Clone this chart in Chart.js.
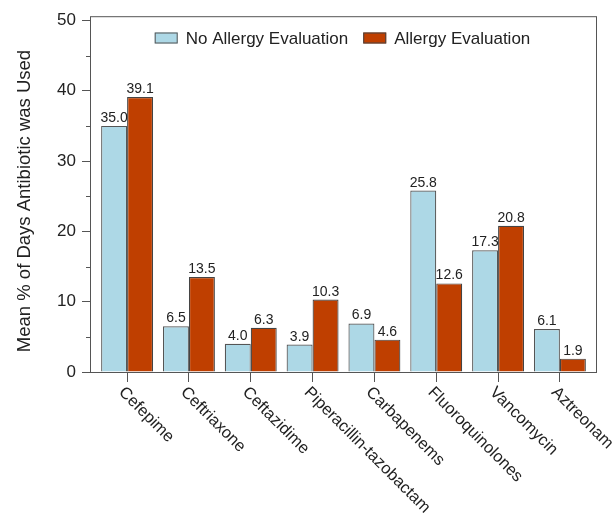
<!DOCTYPE html>
<html>
<head>
<meta charset="utf-8">
<script src="https://cdn.jsdelivr.net/npm/chart.js@4"></script>
<style>
  html, body { margin: 0; padding: 0; background: #fff; }
</style>
</head>
<body>
<canvas id="chart" width="614" height="525"></canvas>
<script>
'use strict';

const categories = ['Cefepime', 'Ceftriaxone', 'Ceftazidime', 'Piperacillin-tazobactam', 'Carbapenems', 'Fluoroquinolones', 'Vancomycin', 'Aztreonam'];
const noEvaluation = [35.0, 6.5, 4.0, 3.9, 6.9, 25.8, 17.3, 6.1];
const withEvaluation = [39.1, 13.5, 6.3, 10.3, 4.6, 12.6, 20.8, 1.9];
const seriesNames = ['No Allergy Evaluation', 'Allergy Evaluation'];
const yTicks = [0, 10, 20, 30, 40, 50];
const yMinorTicks = [5, 15, 25, 35, 45];
const yTitle = 'Mean % of Days Antibiotic was Used';

const FONT = 'Arial, "Liberation Sans", sans-serif';
const LINE = '#555';

// frame, minor ticks, value labels, rotated categories, legend, y title
const decor = {
    id: 'decor',
    afterDatasetsDraw(chart) {
        const { ctx, chartArea: a, scales: { x, y } } = chart;
        ctx.save();

        ctx.strokeStyle = LINE;
        ctx.lineWidth = 1;
        ctx.strokeRect(a.left + 0.5, a.top + 0.5, a.right - a.left - 1, a.bottom - a.top);

        yMinorTicks.forEach(v => {
            const py = Math.round(y.getPixelForValue(v)) + 0.5;
            ctx.beginPath();
            ctx.moveTo(a.left - 4, py);
            ctx.lineTo(a.left, py);
            ctx.stroke();
        });

        ctx.fillStyle = '#222';
        ctx.font = '14px ' + FONT;
        ctx.textAlign = 'center';
        ctx.textBaseline = 'alphabetic';
        chart.data.datasets.forEach((ds, di) => {
            chart.getDatasetMeta(di).data.forEach((el, i) => {
                ctx.fillText(ds.data[i].y.toFixed(1), el.x, el.y - 4);
            });
        });

        ctx.font = '16.5px ' + FONT;
        ctx.textAlign = 'left';
        ctx.textBaseline = 'top';
        categories.forEach((name, i) => {
            ctx.save();
            ctx.translate(x.getPixelForValue(i), a.bottom + 12);
            ctx.rotate(Math.PI / 4);
            ctx.fillText(name, 0, 0);
            ctx.restore();
        });

        // legend
        ctx.font = '17px ' + FONT;
        ctx.textBaseline = 'middle';
        const boxW = 23, boxH = 11, gap = 8, itemGap = 15, cy = 38;
        const widths = seriesNames.map(s => boxW + gap + ctx.measureText(s).width);
        const total = widths.reduce((p, c) => p + c, 0) + itemGap;
        let lx = (a.left + a.right) / 2 - total / 2 - 1;
        chart.data.datasets.forEach((ds, di) => {
            ctx.fillStyle = ds.backgroundColor;
            ctx.fillRect(lx, cy - boxH / 2, boxW, boxH);
            ctx.strokeStyle = ds.borderColor;
            ctx.strokeRect(lx + 0.5, cy - boxH / 2 + 0.5, boxW - 1, boxH - 1);
            ctx.fillStyle = '#222';
            ctx.fillText(seriesNames[di], lx + boxW + gap, cy + 1);
            lx += widths[di] + itemGap;
        });

        ctx.font = '18.5px ' + FONT;
        ctx.textAlign = 'center';
        ctx.translate(25, 201);
        ctx.rotate(-Math.PI / 2);
        ctx.fillText(yTitle, 0, 0);

        ctx.restore();
    }
};

new Chart(document.getElementById('chart'), {
    type: 'bar',
    data: {
        datasets: [
            { label: seriesNames[0], data: noEvaluation.map((v, i) => ({ x: i, y: v })), backgroundColor: '#ADD8E6', borderColor: LINE, borderWidth: 1.2, categoryPercentage: 0.84, barPercentage: 1 },
            { label: seriesNames[1], data: withEvaluation.map((v, i) => ({ x: i, y: v })), backgroundColor: '#BF3F00', borderColor: '#444', borderWidth: 1.2, categoryPercentage: 0.84, barPercentage: 1 }
        ]
    },
    options: {
        responsive: false,
        animation: false,
        layout: { padding: { top: 9, right: 17, left: 0, bottom: 0 }, autoPadding: false },
        plugins: { legend: { display: false }, tooltip: { enabled: false } },
        scales: {
            x: {
                type: 'linear', bounds: 'data', min: -0.6, max: 7.6, offset: false,
                afterBuildTicks: s => { s.ticks = categories.map((_, i) => ({ value: i })); },
                afterFit: s => { s.height = 153; },
                ticks: { display: false },
                grid: { offset: false, drawOnChartArea: false, tickLength: 10, color: LINE },
                border: { display: false }
            },
            y: {
                bounds: 'data', min: 0, max: 50.6,
                afterBuildTicks: s => { s.ticks = yTicks.map(v => ({ value: v })); },
                afterFit: s => { s.width = 90; },
                ticks: { font: { size: 17, family: FONT }, color: '#222', padding: 6 },
                grid: { drawOnChartArea: false, tickLength: 8, color: LINE },
                border: { display: false }
            }
        }
    },
    plugins: [decor]
});
</script>
</body>
</html>
